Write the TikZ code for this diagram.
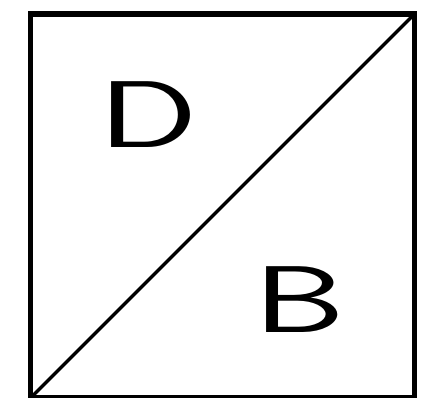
\documentclass[tikz,border=0pt]{standalone}
\usepackage{tikz}
\usetikzlibrary{positioning}

\begin{document}
\begin{tikzpicture}[
  x=0.02cm, y=-0.02cm,
  frame/.style={draw=black, line width=2.9pt},
  cut/.style={draw=black, line width=1.9pt},
  letter/.style={inner sep=0pt, font=\sffamily\fontsize{54}{54}\selectfont, xscale=1.55}
]

\useasboundingbox (0, 0) rectangle (437, 397);

% Square with its diagonal
\coordinate (bl) at (30.5, 398);
\coordinate (tr) at (414.5, 14);
\draw[frame] (bl) rectangle (tr);
\draw[cut] (bl) -- (tr);

% Labels
\node[letter] (lblD) at (148, 115) {D};
\node[letter] (lblB) at (300, 300) {B};

\end{tikzpicture}
\end{document}
